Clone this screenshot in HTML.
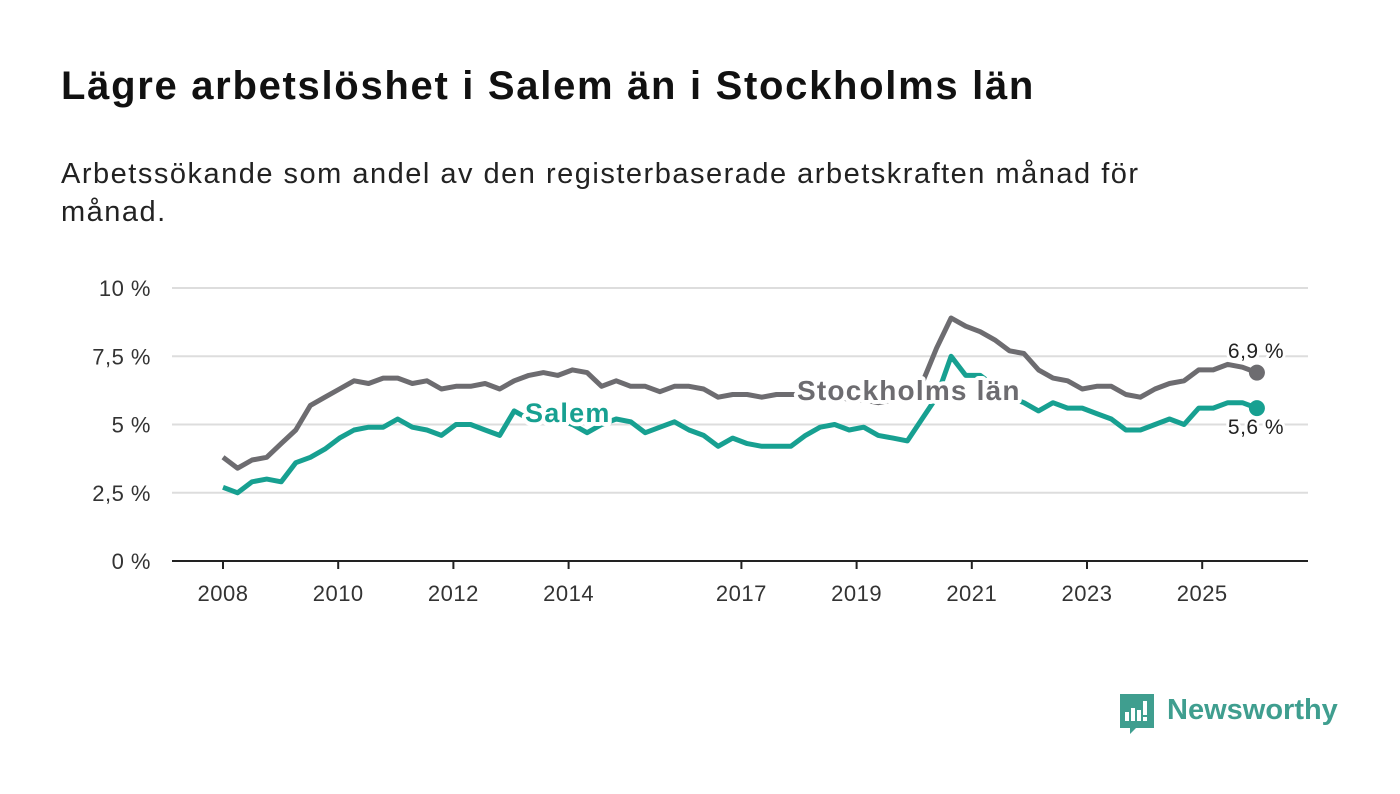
<!DOCTYPE html>
<html><head><meta charset="utf-8">
<style>
body{margin:0;width:1400px;height:794px;background:#fff;font-family:"Liberation Sans","DejaVu Sans",sans-serif;overflow:hidden;position:relative}
h1{position:absolute;left:61px;top:64px;margin:0;font-size:40px;letter-spacing:1.7px;font-weight:bold;color:#111}
.sub{position:absolute;left:61px;top:155px;width:1250px;font-size:29px;letter-spacing:1.5px;line-height:38px;color:#222}
svg{position:absolute;left:0;top:0}
</style></head><body>
<h1>Lägre arbetslöshet i Salem än i Stockholms län</h1>
<div class="sub">Arbetssökande som andel av den registerbaserade arbetskraften månad för<br>månad.</div>
<svg id="chart" width="1400" height="794"></svg>
<svg width="1400" height="794" style="pointer-events:none">
  <path d="M1120 694h34v34h-18l-6 6v-6h-10z" fill="#3f9e8f"/>
  <rect x="1125" y="712" width="4" height="9" fill="#fff"/><rect x="1131" y="708" width="4" height="13" fill="#fff"/>
  <rect x="1137" y="710" width="4" height="11" fill="#fff"/><rect x="1143" y="701" width="4" height="14" fill="#fff"/><rect x="1143" y="717" width="4" height="4" fill="#fff"/>
  <text x="1167" y="719" font-size="29" font-weight="bold" fill="#3f9e8f" font-family="Liberation Sans, sans-serif">Newsworthy</text>
</svg>
<script>
const yTicks=[0,2.5,5,7.5,10];
const yTickLabels=["0 %","2,5 %","5 %","7,5 %","10 %"];
const xTicks=[2008,2010,2012,2014,2017,2019,2021,2023,2025];
const stockholm=[3.8,3.4,3.7,3.8, 4.3,4.8,5.7,6.0, 6.3,6.6,6.5,6.7, 6.7,6.5,6.6,6.3, 6.4,6.4,6.5,6.3, 6.6,6.8,6.9,6.8, 7.0,6.9,6.4,6.6, 6.4,6.4,6.2,6.4, 6.4,6.3,6.0,6.1, 6.1,6.0,6.1,6.1, 6.1,6.1,6.1,5.9, 5.9,5.8,5.9,6.1, 6.5,7.8,8.9,8.6, 8.4,8.1,7.7,7.6, 7.0,6.7,6.6,6.3, 6.4,6.4,6.1,6.0, 6.3,6.5,6.6,7.0, 7.0,7.2,7.1,6.9];
const salem=[2.7,2.5,2.9,3.0, 2.9,3.6,3.8,4.1, 4.5,4.8,4.9,4.9, 5.2,4.9,4.8,4.6, 5.0,5.0,4.8,4.6, 5.5,5.2,5.2,5.2, 5.0,4.7,5.0,5.2, 5.1,4.7,4.9,5.1, 4.8,4.6,4.2,4.5, 4.3,4.2,4.2,4.2, 4.6,4.9,5.0,4.8, 4.9,4.6,4.5,4.4, 5.2,6.0,7.5,6.8, 6.8,6.4,6.0,5.8, 5.5,5.8,5.6,5.6, 5.4,5.2,4.8,4.8, 5.0,5.2,5.0,5.6, 5.6,5.8,5.8,5.6];
const startYear=2008, endYear=2025.95;
const X=t=>223+(t-2008)*57.6;
const Y=v=>561-v*27.3;
const svg=document.getElementById('chart');
const NS='http://www.w3.org/2000/svg';
function mk(tag,attrs){const e=document.createElementNS(NS,tag);for(const k in attrs)e.setAttribute(k,attrs[k]);svg.appendChild(e);return e;}
yTicks.forEach((v,i)=>{
  const l=mk('line',{x1:172,x2:1308,y1:Y(v),y2:Y(v),stroke:v===0?'#222':'#ddd','stroke-width':2});
  
  
  const t=mk('text',{x:151,y:Y(v)+8,'text-anchor':'end','font-size':22,'letter-spacing':0.5,fill:'#333'});t.textContent=yTickLabels[i];
  
  
});
xTicks.forEach(yr=>{
  const l=mk('line',{x1:X(yr),x2:X(yr),y1:561,y2:569,stroke:'#222','stroke-width':2});
  
  
  const t=mk('text',{x:X(yr),y:601,'text-anchor':'middle','font-size':22,'letter-spacing':0.5,fill:'#333'});t.textContent=yr;
  
  
});
function tx(i,n){return startYear+i*(endYear-startYear)/(n-1);}
function drawLine(arr,col,name){
  const d=arr.map((v,i)=>(i?'L':'M')+X(tx(i,arr.length)).toFixed(1)+' '+Y(v).toFixed(1)).join('');
  const p=mk('path',{d:d,fill:'none',stroke:col,'stroke-width':5,'stroke-linejoin':'round'});
  
  
  const last=arr[arr.length-1];
  const c=mk('circle',{cx:X(endYear),cy:Y(last),r:8,fill:col});
  
  
}
drawLine(stockholm,'#6d6c70','stockholm');
drawLine(salem,'#17a091','salem');
function label(txt,x,y,col,size,bold,name,anchor){
  const t=mk('text',{x:x,y:y,fill:col,'font-size':size,'font-weight':bold?'bold':'normal',stroke:'#fff','stroke-width':bold?8:6,'paint-order':'stroke','stroke-linejoin':'round','text-anchor':anchor||'start','letter-spacing':bold?1.2:0.5});
  t.textContent=txt;
  
  
}
label('Stockholms län',797,400,'#6d6c70',28,true,'stockholm-series-label');
label('Salem',525,422,'#17a091',27,true,'salem-series-label');
label('6,9 %',1256,358,'#222',21,false,'stockholm-end-value','middle');
label('5,6 %',1256,434,'#222',21,false,'salem-end-value','middle');
</script>
</body></html>
